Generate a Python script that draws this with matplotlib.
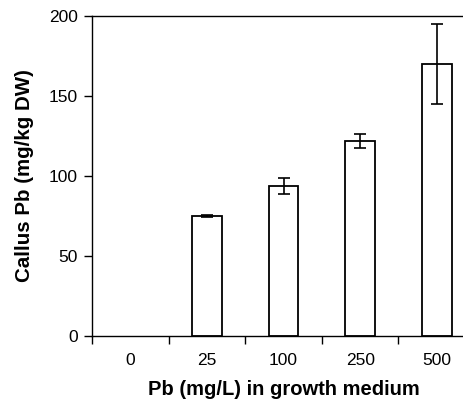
import matplotlib.pyplot as plt
import numpy as np

plt.rcParams['font.family'] = ['Liberation Sans', 'DejaVu Sans']

categories = ['0', '25', '100', '250', '500']
values = [0, 75, 94, 122, 170]
errors = [0, 0.6, 5, 4.2, 25]

fig = plt.figure(figsize=(4.64, 4.0), dpi=100)
ax = fig.add_axes([0.198, 0.16, 0.826, 0.80])

x = np.arange(len(categories))
shown = [i for i, v in enumerate(values) if v > 0]
ax.bar([x[i] for i in shown], [values[i] for i in shown], width=0.39,
       color='white', edgecolor='black', linewidth=1.3)
for i in shown:
    ax.errorbar(x[i], values[i], yerr=errors[i], color='black',
                capsize=4.5, elinewidth=1.2, capthick=1.2)

ax.set_xlim(-0.5, 4.5)
ax.set_ylim(0, 200)
ax.set_yticks([0, 50, 100, 150, 200])

# ticks between categories, labels at centres
ax.set_xticks(np.arange(-0.5, 4.0, 1.0))
ax.set_xticklabels([])
ax.set_xticks(x, minor=True)
ax.set_xticklabels(categories, minor=True)
ax.tick_params(axis='x', which='major', direction='out', length=6, width=1)
ax.tick_params(axis='x', which='minor', length=0, pad=12, labelsize=12.5)
ax.tick_params(axis='y', direction='out', length=6, width=1, labelsize=12.5, pad=4)

for s in ['left', 'bottom', 'top']:
    ax.spines[s].set_linewidth(1)
ax.spines['right'].set_visible(False)

ax.set_xlabel('Pb (mg/L) in growth medium', fontsize=14.5, fontweight='bold', labelpad=9)
ax.set_ylabel('Callus Pb (mg/kg DW)', fontsize=14.8, fontweight='bold', labelpad=11)

fig.savefig('out.png', dpi=100)
